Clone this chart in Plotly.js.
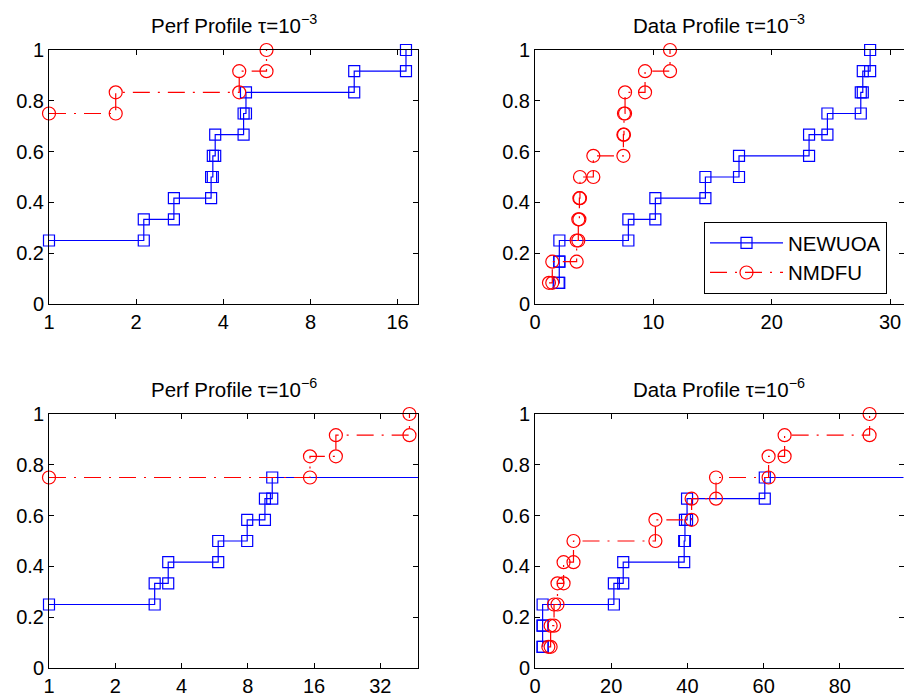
<!DOCTYPE html>
<html><head><meta charset="utf-8">
<script src="https://cdn.plot.ly/plotly-3.0.1.min.js"></script>
<style>html,body{margin:0;padding:0;background:#fff}#chart{width:904px;height:694px}</style>
</head><body><div id="chart"></div>
<script>
// Solver names
const solverNames = ['NEWUOA', 'NMDFU'];

// Perf profile tau = 1e-3 : step positions (ratio) and fraction of problems solved
const perf3NewuoaX = [1, 2.125, 2.70, 3.63, 3.68, 3.75, 4.70, 4.79, 11.33, 17.1];
const perf3NewuoaY = [0.25, 0.3333, 0.4167, 0.5, 0.5833, 0.6667, 0.75, 0.8333, 0.9167, 1.0];
const perf3NmdfuX = [1, 1.70, 4.54, 5.64];
const perf3NmdfuY = [0.75, 0.8333, 0.9167, 1.0];

// Data profile tau = 1e-3
const data3NewuoaX = [2.0, 2.05, 2.06, 7.89, 10.17, 14.4, 17.24, 23.16, 24.71, 27.53, 27.7, 28.32];
const data3NewuoaY = [0.0833, 0.1667, 0.25, 0.3333, 0.4167, 0.5, 0.5833, 0.6667, 0.75, 0.8333, 0.9167, 1.0];
const data3NmdfuX = [1.18, 1.46, 3.52, 3.66, 3.75, 3.80, 4.93, 7.47, 7.52, 7.61, 9.30, 11.41];
const data3NmdfuY = [0.0833, 0.1667, 0.25, 0.3333, 0.4167, 0.5, 0.5833, 0.6667, 0.75, 0.8333, 0.9167, 1.0];

// Perf profile tau = 1e-6
const perf6NewuoaX = [1, 3.02, 3.48, 5.87, 7.95, 9.57, 10.33];
const perf6NewuoaY = [0.25, 0.3333, 0.4167, 0.5, 0.5833, 0.6667, 0.75];
const perf6NmdfuX = [1, 15.33, 20.1, 43.4];
const perf6NmdfuY = [0.75, 0.8333, 0.9167, 1.0];

// Data profile tau = 1e-6
const data6NewuoaX = [2.0, 2.0, 2.0, 20.7, 23.15, 39.15, 39.35, 39.9, 60.3];
const data6NewuoaY = [0.0833, 0.1667, 0.25, 0.3333, 0.4167, 0.5, 0.5833, 0.6667, 0.75];
const data6NmdfuX = [3.5, 4.1, 5.0, 5.9, 7.5, 10.1, 31.6, 41.1, 47.5, 61.3, 65.5, 87.8];
const data6NmdfuY = [0.0833, 0.1667, 0.25, 0.3333, 0.4167, 0.5, 0.5833, 0.6667, 0.75, 0.8333, 0.9167, 1.0];

// Tick labels
const logTicks3 = [1, 2, 4, 8, 16];
const logTicks6 = [1, 2, 4, 8, 16, 32];
const dataTicks3 = [0, 10, 20, 30];
const dataTicks6 = [0, 20, 40, 60, 80];
const yTicks = [0, 0.2, 0.4, 0.6, 0.8, 1];
const yTickText = ['0', '0.2', '0.4', '0.6', '0.8', '1'];

const titles = [
  'Perf Profile \u03c4=10<sup>\u22123</sup>',
  'Data Profile \u03c4=10<sup>\u22123</sup>',
  'Perf Profile \u03c4=10<sup>\u22126</sup>',
  'Data Profile \u03c4=10<sup>\u22126</sup>'
];

// Unsolved problems: profile continues to the right beyond the axis
const FAIL_X = 1e4;

function stairs(xs, ys) {
  const vx = [xs[0]], vy = [ys[0]];
  for (let i = 1; i < xs.length; i++) {
    vx.push(xs[i], xs[i]);
    vy.push(ys[i - 1], ys[i]);
  }
  if (ys[ys.length - 1] < 0.999) { vx.push(FAIL_X); vy.push(ys[ys.length - 1]); }
  return { x: vx, y: vy };
}

const BLUE = '#0000ff', RED = '#ff0000';
const FONT = 'Liberation Sans, Arial, Helvetica, sans-serif';
const FS = 20;

function newuoaTrace(xs, ys, xa, ya, show) {
  const s = stairs(xs, ys);
  return {
    x: s.x, y: s.y, xaxis: xa, yaxis: ya, type: 'scatter', mode: 'lines+markers',
    name: solverNames[0], showlegend: show, cliponaxis: false,
    line: { color: BLUE, width: 1.2 },
    marker: { symbol: 'square-open', size: 11, color: BLUE, line: { color: BLUE, width: 1.2 } }
  };
}
function nmdfuTrace(xs, ys, xa, ya, show) {
  const s = stairs(xs, ys);
  return {
    x: s.x, y: s.y, xaxis: xa, yaxis: ya, type: 'scatter', mode: 'lines+markers',
    name: solverNames[1], showlegend: show, cliponaxis: false,
    line: { color: RED, width: 1.2, dash: '17px,8px,2px,8px' },
    marker: { symbol: 'circle-open', size: 13, color: RED, line: { color: RED, width: 1.2 } }
  };
}

const traces = [
  newuoaTrace(perf3NewuoaX, perf3NewuoaY, 'x', 'y', false),
  nmdfuTrace(perf3NmdfuX, perf3NmdfuY, 'x', 'y', false),
  newuoaTrace(data3NewuoaX, data3NewuoaY, 'x2', 'y2', true),
  nmdfuTrace(data3NmdfuX, data3NmdfuY, 'x2', 'y2', true),
  newuoaTrace(perf6NewuoaX, perf6NewuoaY, 'x3', 'y3', false),
  nmdfuTrace(perf6NmdfuX, perf6NmdfuY, 'x3', 'y3', false),
  newuoaTrace(data6NewuoaX, data6NewuoaY, 'x4', 'y4', false),
  nmdfuTrace(data6NmdfuX, data6NmdfuY, 'x4', 'y4', false)
];

const W = 904, H = 694;
const colL = [49 / W, 418.3 / W];
const colR = [535 / W, 903.5 / W];
const rowT = [1 - 304 / H, 1 - 50 / H];
const rowB = [1 - 668 / H, 1 - 414 / H];

const common = {
  showline: true, linecolor: '#000', linewidth: 1, mirror: 'ticks',
  ticks: 'inside', ticklen: 5, tickwidth: 1, tickcolor: '#000',
  showgrid: false, zeroline: false,
  tickfont: { family: FONT, size: FS, color: '#000' }
};
function xax(domain, anchor, type, range, vals) {
  return Object.assign({}, common, {
    domain: domain, anchor: anchor, type: type, range: range,
    tickmode: 'array', tickvals: vals, ticktext: vals.map(String)
  });
}
function yax(domain, anchor) {
  return Object.assign({}, common, {
    domain: domain, anchor: anchor, range: [0, 1],
    tickmode: 'array', tickvals: yTicks, ticktext: yTickText
  });
}

const titleY = [1 - 24 / H, 1 - 388 / H];
const ann = [
  [ (colL[0] + colL[1]) / 2, titleY[0], titles[0] ],
  [ (colR[0] + colR[1]) / 2, titleY[0], titles[1] ],
  [ (colL[0] + colL[1]) / 2, titleY[1], titles[2] ],
  [ (colR[0] + colR[1]) / 2, titleY[1], titles[3] ]
].map(a => ({
  x: a[0], y: a[1], xref: 'paper', yref: 'paper', text: a[2], showarrow: false,
  xanchor: 'center', yanchor: 'middle', font: { family: FONT, size: FS + 0.5, color: '#000' }
}));

const layout = {
  width: W, height: H,
  margin: { l: 0, r: 0, t: 0, b: 0 },
  paper_bgcolor: '#fff', plot_bgcolor: '#fff',
  font: { family: FONT, size: FS, color: '#000' },
  xaxis: xax(colL, 'y', 'log', [0, Math.log10(18.86)], logTicks3),
  yaxis: yax(rowT, 'x'),
  xaxis2: xax(colR, 'y2', 'linear', [0, 31.14], dataTicks3),
  yaxis2: yax(rowT, 'x2'),
  xaxis3: xax(colL, 'y3', 'log', [0, Math.log10(47.6)], logTicks6),
  yaxis3: yax(rowB, 'x3'),
  xaxis4: xax(colR, 'y4', 'linear', [0, 96.7], dataTicks6),
  yaxis4: yax(rowB, 'x4'),
  showlegend: true,
  legend: {
    x: 704 / W, y: 1 - 222 / H, xanchor: 'left', yanchor: 'top',
    bgcolor: '#fff', bordercolor: '#000', borderwidth: 1,
    font: { family: FONT, size: FS + 0.5, color: '#000' },
    itemwidth: 73, tracegroupgap: 0
  },
  annotations: ann
};

Plotly.newPlot('chart', traces, layout, { displayModeBar: false, staticPlot: true });
</script>
</body></html>
